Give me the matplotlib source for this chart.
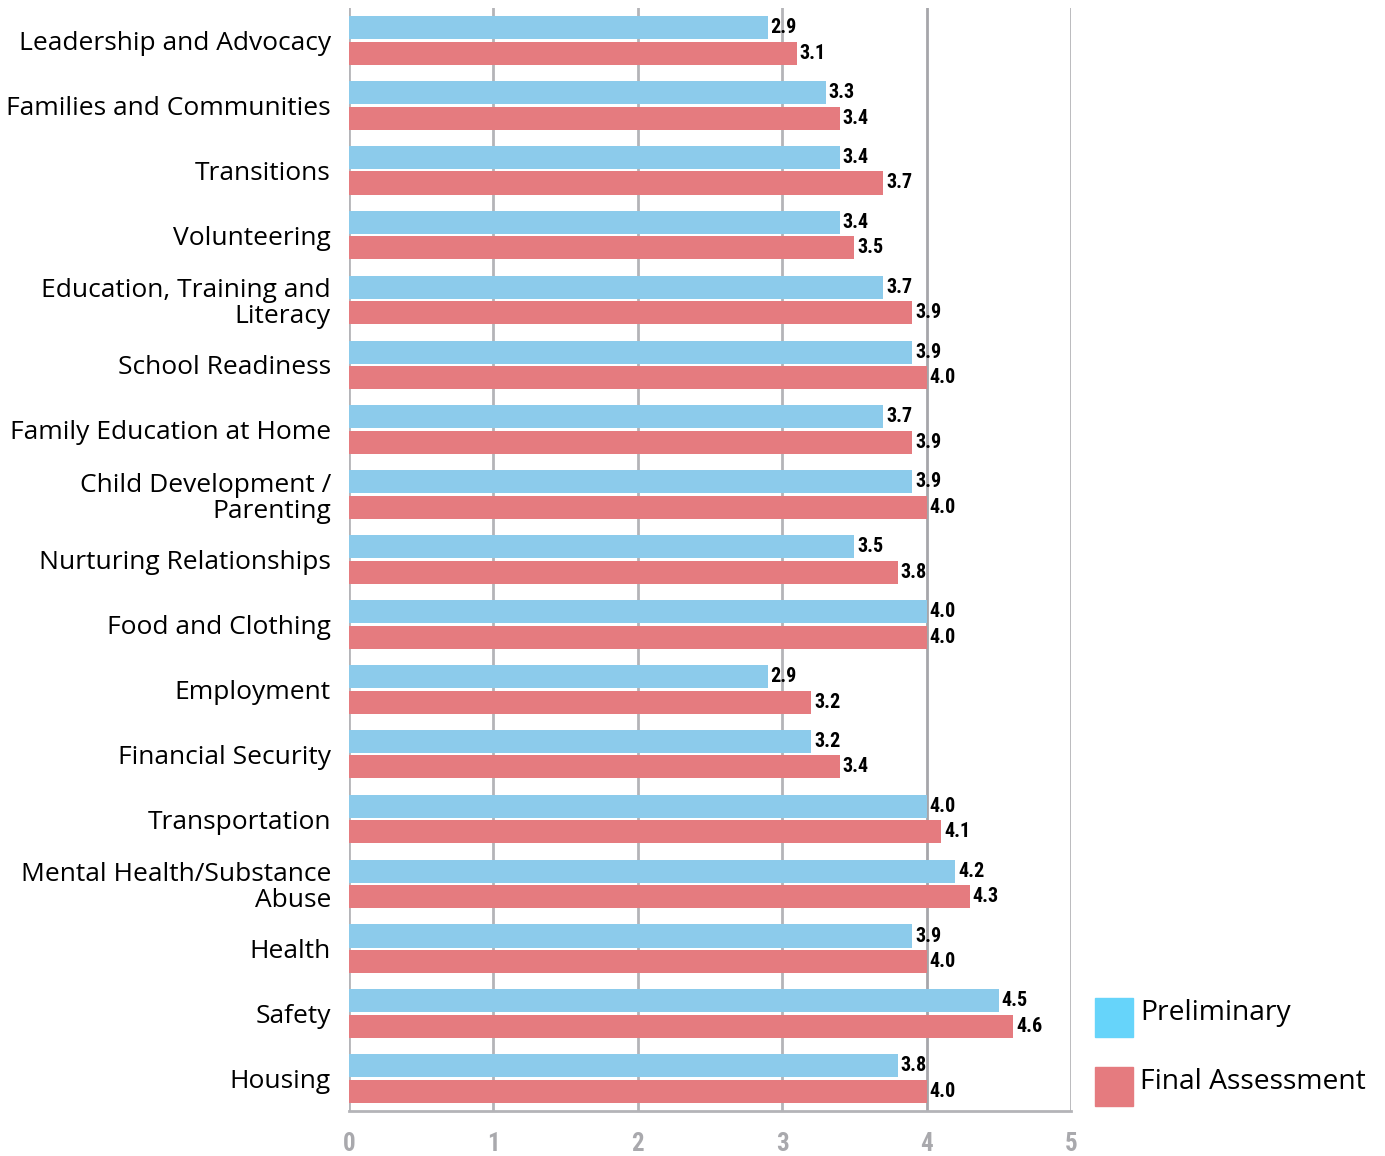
import numpy as np
import matplotlib
matplotlib.use("Agg")
import matplotlib.pyplot as plt
from matplotlib import font_manager
from matplotlib.patches import Rectangle

categories = ["Leadership and Advocacy", "Families and Communities", "Transitions",
              "Volunteering", "Education, Training and\nLiteracy", "School Readiness",
              "Family Education at Home", "Child Development /\nParenting",
              "Nurturing Relationships", "Food and Clothing", "Employment",
              "Financial Security", "Transportation", "Mental Health/Substance\nAbuse",
              "Health", "Safety", "Housing"]
preliminary = [2.9, 3.3, 3.4, 3.4, 3.7, 3.9, 3.7, 3.9, 3.5, 4.0, 2.9, 3.2, 4.0, 4.2, 3.9, 4.5, 3.8]
final = [3.1, 3.4, 3.7, 3.5, 3.9, 4.0, 3.9, 4.0, 3.8, 4.0, 3.2, 3.4, 4.1, 4.3, 4.0, 4.6, 4.0]
xticks = [0, 1, 2, 3, 4, 5]

blue = "#8ccbeb"
red = "#e57b7f"
blue_key = "#66d4fa"

# pick a narrow font for the numbers if one is around
names = {f.name for f in font_manager.fontManager.ttflist}
narrow = "DejaVu Sans"
for cand in ["Liberation Sans Narrow", "DejaVu Sans Condensed", "Roboto Condensed"]:
    if cand in names:
        narrow = cand
        break
label_font = "Open Sans"

fig = plt.figure(figsize=(13.85, 11.56), dpi=100)
ax = fig.add_axes([349 / 1385, 1 - 1111 / 1156, 722 / 1385, 1103 / 1156])

y = np.arange(len(categories))
h = 0.355
off = 0.197
ax.barh(y - off, preliminary, height=h, color=blue, zorder=2)
ax.barh(y + off, final, height=h, color=red, zorder=2)

for i in range(len(categories)):
    ax.text(preliminary[i] + 0.02, y[i] - off, f"{preliminary[i]:.1f}", va="center", ha="left",
            fontsize=14.5, fontweight="bold", family=narrow, zorder=3)
    ax.text(final[i] + 0.02, y[i] + off, f"{final[i]:.1f}", va="center", ha="left",
            fontsize=14.5, fontweight="bold", family=narrow, zorder=3)

for xv in xticks:
    ax.axvline(xv, color="#b4b4b8" if xv != 4 else "#a6a6aa", lw=2, zorder=0)

ax.set_xlim(0, 5)
ax.set_ylim(len(categories) - 0.5, -0.5)
ax.set_xticks(xticks)
ax.set_xticklabels([str(v) for v in xticks], color="#a9a9ad", fontsize=18,
                   fontweight="bold", family=narrow)
ax.set_yticks(y)
ax.set_yticklabels(categories, fontsize=19, family=label_font, linespacing=1.05)
ax.tick_params(axis="x", length=0, pad=15)
ax.tick_params(axis="y", length=0, pad=13)
for s in ["top", "left", "right"]:
    ax.spines[s].set_visible(False)
ax.spines["bottom"].set_color("#b4b4b8")
ax.spines["bottom"].set_linewidth(2)

# legend keys
fig.add_artist(Rectangle((1095 / 1385, 1 - 1037 / 1156), 38 / 1385, 39 / 1156,
                         transform=fig.transFigure, color=blue_key))
fig.add_artist(Rectangle((1095 / 1385, 1 - 1106 / 1156), 38 / 1385, 39 / 1156,
                         transform=fig.transFigure, color=red))
fig.text(1140 / 1385, 1 - 1013 / 1156, "Preliminary", fontsize=20.3, family=label_font, va="center")
fig.text(1140 / 1385, 1 - 1082 / 1156, "Final Assessment", fontsize=20.3, family=label_font, va="center")

fig.savefig("out.png", dpi=100)
